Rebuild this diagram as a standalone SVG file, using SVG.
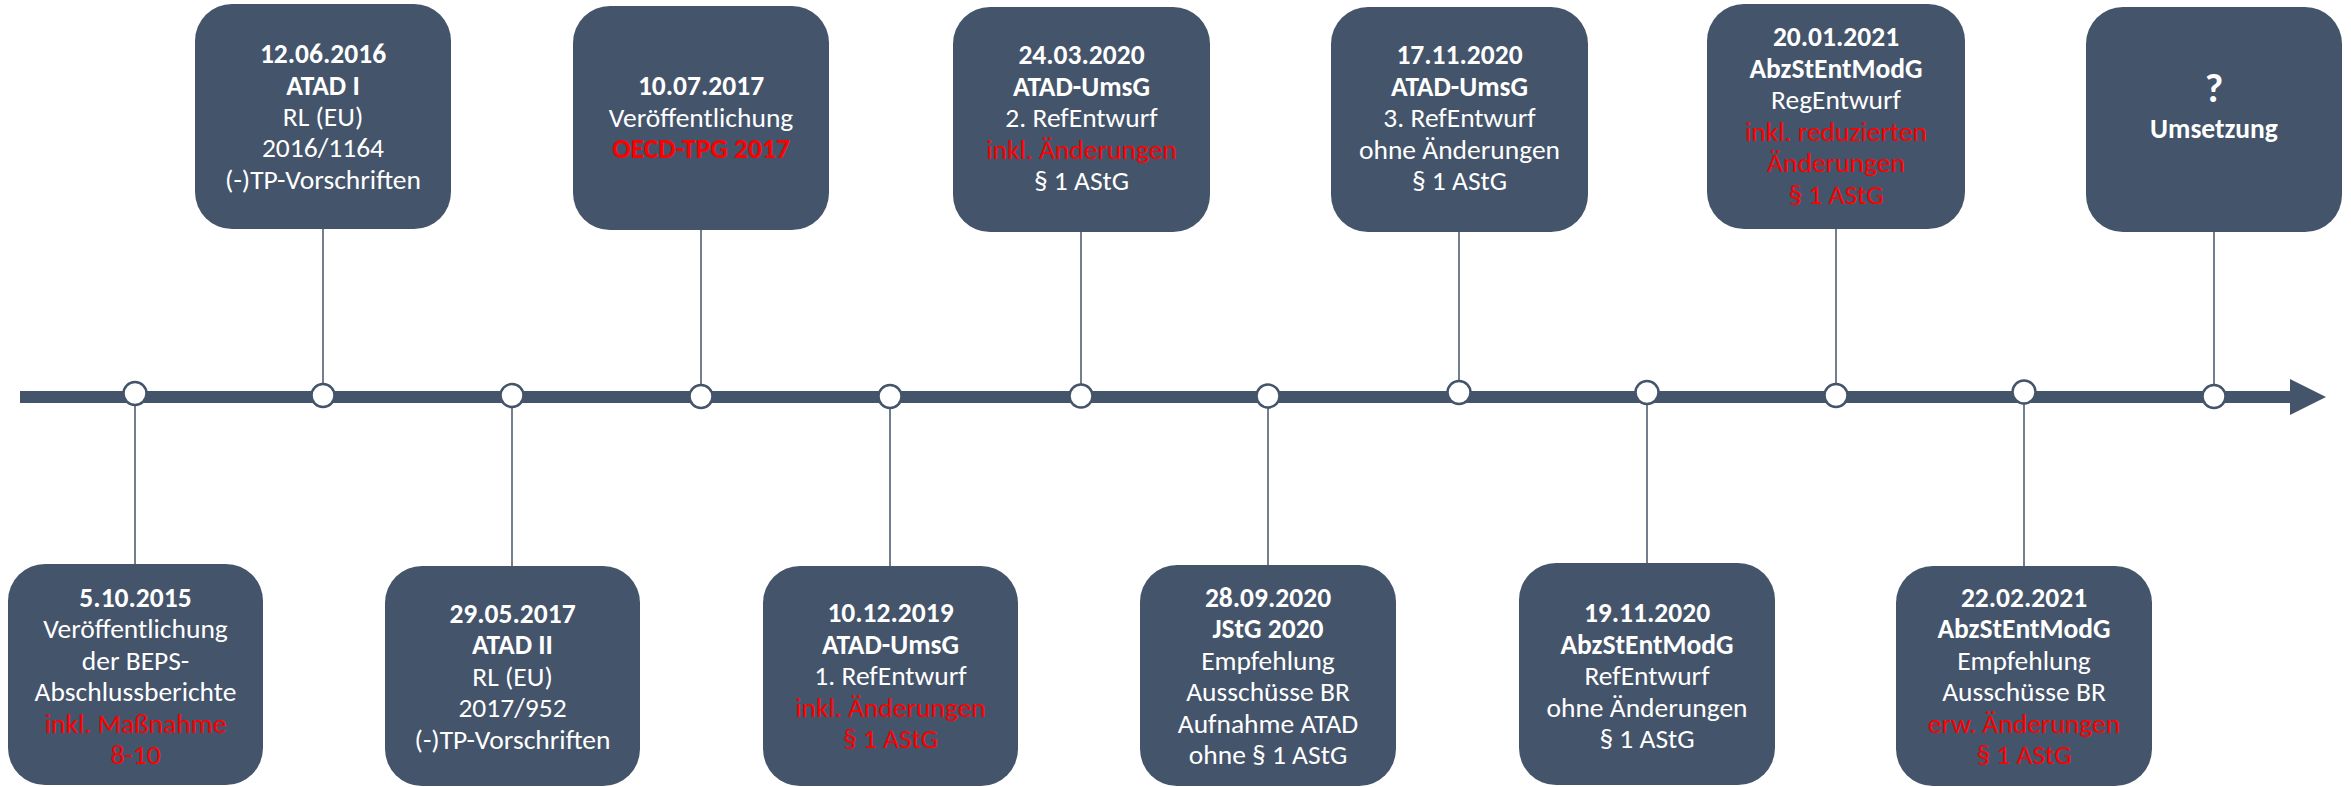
<svg xmlns="http://www.w3.org/2000/svg" width="2351" height="787" viewBox="0 0 2351 787">
<style>
.box{fill:#44546A}
.conn{stroke:#44546A;stroke-width:1.5;fill:none}
.dot{fill:#FFFFFF;stroke:#44546A;stroke-width:2.5}
text{font-family:Carlito,Lato,"Liberation Sans",sans-serif;font-size:27.5px;fill:#FFFFFF;text-anchor:middle}
.b{font-weight:bold}
.r{fill:#FF0000}
</style>
<rect width="2351" height="787" fill="#FFFFFF"/>
<g id="timeline">
<rect x="20" y="391" width="2272" height="12" fill="#44546A"/>
<polygon points="2290,379 2326,397 2290,415" fill="#44546A"/>
</g>
<g id="connectors">
<line class="conn" x1="323" y1="229" x2="323" y2="384"/>
<line class="conn" x1="701" y1="230" x2="701" y2="385"/>
<line class="conn" x1="1081" y1="232" x2="1081" y2="385"/>
<line class="conn" x1="1459" y1="232" x2="1459" y2="381"/>
<line class="conn" x1="1836" y1="229" x2="1836" y2="384"/>
<line class="conn" x1="2214" y1="232" x2="2214" y2="385"/>
<line class="conn" x1="135" y1="405" x2="135" y2="564"/>
<line class="conn" x1="512" y1="407" x2="512" y2="566"/>
<line class="conn" x1="890" y1="408" x2="890" y2="566"/>
<line class="conn" x1="1268" y1="407" x2="1268" y2="565"/>
<line class="conn" x1="1647" y1="404" x2="1647" y2="563"/>
<line class="conn" x1="2024" y1="403" x2="2024" y2="566"/>
</g>
<g id="dots">
<circle class="dot" cx="135" cy="393.5" r="11.5"/>
<circle class="dot" cx="323" cy="395.5" r="11.5"/>
<circle class="dot" cx="512" cy="395.5" r="11.5"/>
<circle class="dot" cx="701" cy="396.5" r="11.5"/>
<circle class="dot" cx="890" cy="396.5" r="11.5"/>
<circle class="dot" cx="1081" cy="396" r="11.5"/>
<circle class="dot" cx="1268" cy="396" r="11.5"/>
<circle class="dot" cx="1459" cy="392.5" r="11.5"/>
<circle class="dot" cx="1647" cy="392.5" r="11.5"/>
<circle class="dot" cx="1836" cy="395.5" r="11.5"/>
<circle class="dot" cx="2024" cy="392" r="11.5"/>
<circle class="dot" cx="2214" cy="396.5" r="11.5"/>
</g>
<g id="n-2016-06-12">
<rect class="box" x="195" y="4" width="256" height="225" rx="37"/>
<text x="323" y="63" class="b">12.06.2016</text>
<text x="323" y="94.5" class="b">ATAD I</text>
<text x="323" y="126">RL (EU)</text>
<text x="323" y="157">2016/1164</text>
<text x="323" y="188.5">(-)TP-Vorschriften</text>
</g>
<g id="n-2017-07-10">
<rect class="box" x="573" y="6" width="256" height="224" rx="37"/>
<text x="701" y="95" class="b">10.07.2017</text>
<text x="701" y="126.5">Veröffentlichung</text>
<text x="701" y="158" class="b r">OECD-TPG 2017</text>
</g>
<g id="n-2020-03-24">
<rect class="box" x="953" y="7" width="257" height="225" rx="37"/>
<text x="1081.5" y="64" class="b">24.03.2020</text>
<text x="1081.5" y="95.5" class="b">ATAD-UmsG</text>
<text x="1081.5" y="127">2. RefEntwurf</text>
<text x="1081.5" y="158.5" class="r">inkl. Änderungen</text>
<text x="1081.5" y="190">§ 1 AStG</text>
</g>
<g id="n-2020-11-17">
<rect class="box" x="1331" y="7" width="257" height="225" rx="37"/>
<text x="1459.5" y="64" class="b">17.11.2020</text>
<text x="1459.5" y="95.5" class="b">ATAD-UmsG</text>
<text x="1459.5" y="127">3. RefEntwurf</text>
<text x="1459.5" y="158.5">ohne Änderungen</text>
<text x="1459.5" y="190">§ 1 AStG</text>
</g>
<g id="n-2021-01-20">
<rect class="box" x="1707" y="4" width="258" height="225" rx="37"/>
<text x="1836" y="46" class="b">20.01.2021</text>
<text x="1836" y="77.5" class="b">AbzStEntModG</text>
<text x="1836" y="109">RegEntwurf</text>
<text x="1836" y="140.5" class="r">inkl. reduzierten</text>
<text x="1836" y="172" class="r">Änderungen</text>
<text x="1836" y="203.5" class="r">§ 1 AStG</text>
</g>
<g id="n-umsetzung">
<rect class="box" x="2086" y="7" width="256" height="225" rx="37"/>
<text x="2214" y="102" class="b" style="font-size:40px">?</text>
<text x="2214" y="137.5" class="b">Umsetzung</text>
</g>
<g id="n-2015-10-05">
<rect class="box" x="8" y="564" width="255" height="221" rx="37"/>
<text x="135.5" y="606.5" class="b">5.10.2015</text>
<text x="135.5" y="638">Veröffentlichung</text>
<text x="135.5" y="669.5">der BEPS-</text>
<text x="135.5" y="701">Abschlussberichte</text>
<text x="135.5" y="732.5" class="r">inkl. Maßnahme</text>
<text x="135.5" y="764" class="r">8-10</text>
</g>
<g id="n-2017-05-29">
<rect class="box" x="385" y="566" width="255" height="220" rx="37"/>
<text x="512.5" y="622.5" class="b">29.05.2017</text>
<text x="512.5" y="654" class="b">ATAD II</text>
<text x="512.5" y="685.5">RL (EU)</text>
<text x="512.5" y="717">2017/952</text>
<text x="512.5" y="748.5">(-)TP-Vorschriften</text>
</g>
<g id="n-2019-12-10">
<rect class="box" x="763" y="566" width="255" height="220" rx="37"/>
<text x="890.5" y="622" class="b">10.12.2019</text>
<text x="890.5" y="653.5" class="b">ATAD-UmsG</text>
<text x="890.5" y="685">1. RefEntwurf</text>
<text x="890.5" y="716.5" class="r">inkl. Änderungen</text>
<text x="890.5" y="748" class="r">§ 1 AStG</text>
</g>
<g id="n-2020-09-28">
<rect class="box" x="1140" y="565" width="256" height="221" rx="37"/>
<text x="1268" y="606.5" class="b">28.09.2020</text>
<text x="1268" y="638" class="b">JStG 2020</text>
<text x="1268" y="669.5">Empfehlung</text>
<text x="1268" y="701">Ausschüsse BR</text>
<text x="1268" y="732.5">Aufnahme ATAD</text>
<text x="1268" y="764">ohne § 1 AStG</text>
</g>
<g id="n-2020-11-19">
<rect class="box" x="1519" y="563" width="256" height="222" rx="37"/>
<text x="1647" y="622" class="b">19.11.2020</text>
<text x="1647" y="653.5" class="b">AbzStEntModG</text>
<text x="1647" y="685">RefEntwurf</text>
<text x="1647" y="716.5">ohne Änderungen</text>
<text x="1647" y="748">§ 1 AStG</text>
</g>
<g id="n-2021-02-22">
<rect class="box" x="1896" y="566" width="256" height="220" rx="37"/>
<text x="2024" y="606.5" class="b">22.02.2021</text>
<text x="2024" y="638" class="b">AbzStEntModG</text>
<text x="2024" y="669.5">Empfehlung</text>
<text x="2024" y="701">Ausschüsse BR</text>
<text x="2024" y="732.5" class="r">erw. Änderungen</text>
<text x="2024" y="764" class="r">§ 1 AStG</text>
</g>
</svg>
